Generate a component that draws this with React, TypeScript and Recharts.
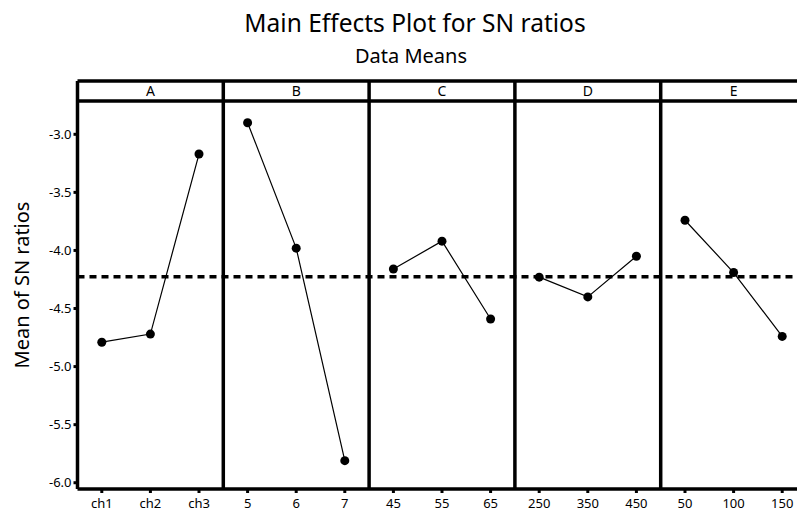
import React from 'react';
import { LineChart, Line, XAxis, YAxis, ReferenceLine, ReferenceArea } from 'recharts';

// ---- data ----
const factors = ['A', 'B', 'C', 'D', 'E'];
const levelLabels = [
  ['ch1', 'ch2', 'ch3'],
  ['5', '6', '7'],
  ['45', '55', '65'],
  ['250', '350', '450'],
  ['50', '100', '150'],
];
const snA = [-4.79, -4.72, -3.17];
const snB = [-2.90, -3.98, -5.81];
const snC = [-4.16, -3.92, -4.59];
const snD = [-4.23, -4.40, -4.05];
const snE = [-3.74, -4.19, -4.74];
const yTicks = [-6.0, -5.5, -5.0, -4.5, -4.0, -3.5, -3.0];

const seriesValues = [snA, snB, snC, snD, snE];
const allLabels = levelLabels.flat();
const allValues = seriesValues.flat();
const grandMean = allValues.reduce((s, v) => s + v, 0) / allValues.length;

// table for the library: one row per level position; each factor only fills its own rows
const rows: any[] = [];
factors.forEach((f, fi) => {
  seriesValues[fi].forEach((v, li) => {
    const row: any = { x: fi * 3 + li + 0.5 };
    row[f] = v;
    rows.push(row);
  });
});
const xTicks = rows.map((r) => r.x);

// layout constants (panel strip sits above the data region)
const Y_MIN = -6.054;
const STRIP_BOTTOM = -2.713;
const Y_MAX = -2.541;
const FONT = '"Noto Sans", "Open Sans", sans-serif';
const BORDER = 3.5;

export default function App() {
  return (
    <div
      style={{
        position: 'fixed', left: 0, top: 0, width: 797, height: 511,
        overflow: 'hidden', background: '#fff',
      }}
    >
      <div
        style={{
          position: 'absolute', left: 215, width: 400, top: 10.5, textAlign: 'center',
          fontFamily: FONT, fontSize: 24.5, lineHeight: '24px', color: '#000', whiteSpace: 'nowrap',
        }}
      >
        Main Effects Plot for SN ratios
      </div>
      <div
        style={{
          position: 'absolute', left: 261, width: 300, top: 46, textAlign: 'center',
          fontFamily: FONT, fontSize: 20, lineHeight: '20px', color: '#000', whiteSpace: 'nowrap',
        }}
      >
        Data Means
      </div>
      <div style={{ position: 'absolute', left: 0, top: 0 }}>
        <LineChart
          width={830}
          height={511}
          data={rows}
          margin={{ top: 81, right: 23.5, bottom: 0, left: 0 }}
          style={{ fontFamily: FONT }}
        >
          <XAxis
            dataKey="x"
            type="number"
            domain={[0, 15]}
            ticks={xTicks}
            interval={0}
            height={22}
            tickFormatter={(v: number) => allLabels[Math.round(v - 0.5)]}
            axisLine={{ stroke: '#000', strokeWidth: BORDER }}
            tickLine={{ stroke: '#000', strokeWidth: 3 }}
            tickSize={4}
            tickMargin={6}
            tick={{ fill: '#000', fontSize: 13 }}
          />
          <YAxis
            type="number"
            domain={[Y_MIN, Y_MAX]}
            ticks={yTicks}
            interval={0}
            width={77.5}
            tickFormatter={(v: number) => v.toFixed(1)}
            axisLine={{ stroke: '#000', strokeWidth: BORDER }}
            tickLine={{ stroke: '#000', strokeWidth: 3 }}
            tickSize={4}
            tickMargin={2}
            tick={{ fill: '#000', fontSize: 13 }}
            label={{
              value: 'Mean of SN ratios',
              angle: -90,
              position: 'insideLeft',
              offset: 22,
              style: { textAnchor: 'middle', fontSize: 20, fill: '#000' },
            }}
          />
          {factors.map((f, fi) => (
            <ReferenceArea
              key={'strip' + f}
              x1={fi * 3}
              x2={fi * 3 + 3}
              y1={STRIP_BOTTOM}
              y2={Y_MAX}
              fill="#fff"
              fillOpacity={1}
              stroke="none"
              label={{ value: f, position: 'center', fill: '#000', fontSize: 14 }}
            />
          ))}
          <ReferenceLine y={Y_MAX} stroke="#000" strokeWidth={BORDER} />
          <ReferenceLine y={STRIP_BOTTOM} stroke="#000" strokeWidth={BORDER} />
          {[3, 6, 9, 12, 15].map((x) => (
            <ReferenceLine key={'sep' + x} x={x} stroke="#000" strokeWidth={BORDER} />
          ))}
          <ReferenceLine y={grandMean} stroke="#000" strokeWidth={3.5} strokeDasharray="7 5" />
          {factors.map((f) => (
            <Line
              key={f}
              dataKey={f}
              type="linear"
              stroke="#000"
              strokeWidth={1.2}
              dot={{ r: 4.5, fill: '#000', stroke: '#000', strokeWidth: 0 }}
              activeDot={false}
              connectNulls
              isAnimationActive={false}
            />
          ))}
        </LineChart>
      </div>
    </div>
  );
}
